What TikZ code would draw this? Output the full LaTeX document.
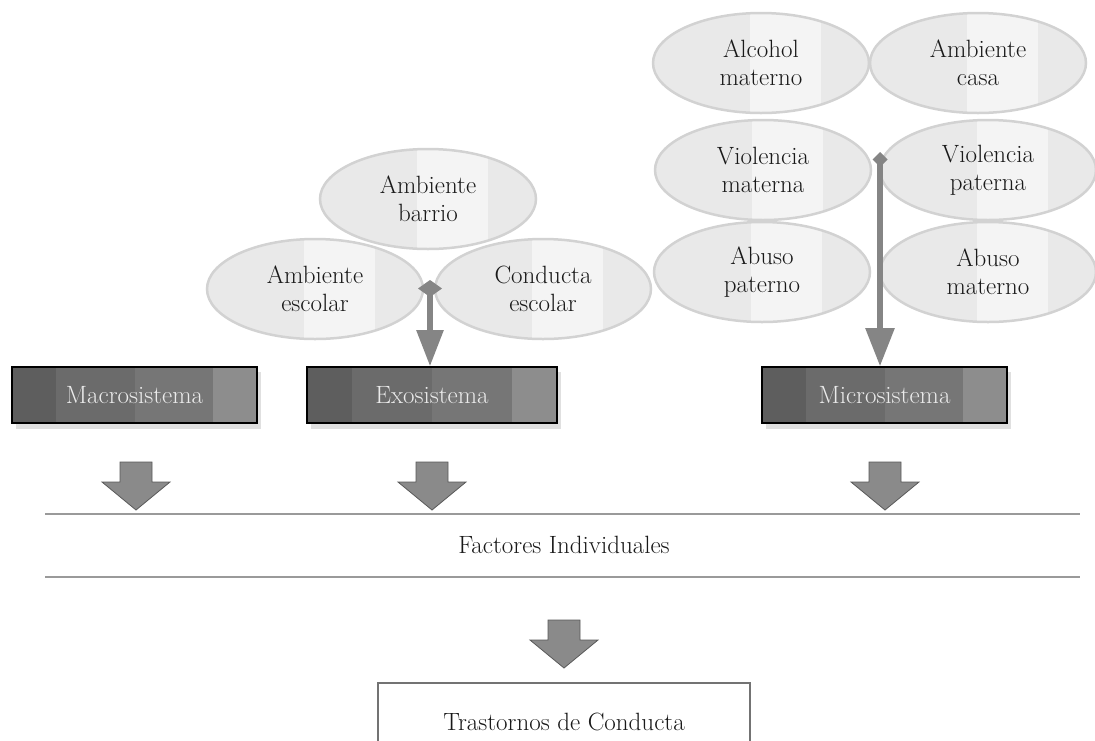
\documentclass[tikz,border=0pt]{standalone}
\usetikzlibrary{arrows.meta,shapes.geometric,calc}
\definecolor{bubfill}{HTML}{E9E9E9}
\definecolor{bubband}{HTML}{F4F4F4}
\definecolor{bubline}{HTML}{D2D2D2}
\definecolor{conn}{HTML}{858585}
\definecolor{bA}{HTML}{5E5E5E}
\definecolor{bB}{HTML}{6B6B6B}
\definecolor{bC}{HTML}{767676}
\definecolor{bD}{HTML}{8D8D8D}
\definecolor{blk}{HTML}{8A8A8A}
\definecolor{rule}{HTML}{9A9A9A}
\tikzset{
  bubble/.style={ellipse, minimum width=216pt, minimum height=100pt, inner sep=0pt,
    fill=bubfill, draw=bubline, line width=2.5pt, align=center,
    font=\fontsize{25}{28}\selectfont, text=black!90,
    path picture={\fill[bubband] ($(path picture bounding box.south west)!0.45!(path picture bounding box.south east)$) rectangle ($(path picture bounding box.north west)!0.78!(path picture bounding box.north east)$);}},
  sysbox/.style={rectangle, minimum width=245pt, minimum height=56pt, inner sep=0pt,
    draw=black, line width=1.6pt, text=white!92!black, font=\fontsize{25}{28}\selectfont,
    path picture={
      \fill[bA] (path picture bounding box.south west) rectangle ($(path picture bounding box.north west)!0.18!(path picture bounding box.north east)$);
      \fill[bB] ($(path picture bounding box.south west)!0.18!(path picture bounding box.south east)$) rectangle ($(path picture bounding box.north west)!0.5!(path picture bounding box.north east)$);
      \fill[bC] ($(path picture bounding box.south west)!0.5!(path picture bounding box.south east)$) rectangle ($(path picture bounding box.north west)!0.82!(path picture bounding box.north east)$);
      \fill[bD] ($(path picture bounding box.south west)!0.82!(path picture bounding box.south east)$) rectangle (path picture bounding box.north east);}},
  shadowbox/.style={fill=black!12},
  connarrow/.style={draw=conn, line width=5.5pt},
  blockarrow/.style={fill=blk, draw=black!65, line width=0.8pt, line join=miter},
  rulestyle/.style={draw=rule, line width=1.6pt},
  plaintext/.style={font=\fontsize{25}{28}\selectfont, text=black!90},
}
\newcommand{\downblock}[2]{%
  \draw[blockarrow] (#1-16,#2) -- (#1+16,#2) -- (#1+16,#2+20) -- (#1+34,#2+20) -- (#1,#2+48) -- (#1-34,#2+20) -- (#1-16,#2+20) -- cycle;}
\begin{document}
\begin{tikzpicture}[x=1pt,y=-1pt]
\useasboundingbox (0,0) rectangle (1095,740);
\clip (0,0) rectangle (1095,740);

% exosystem cluster
\node[bubble] (barrio) at (428,199) {Ambiente\\barrio};
\node[bubble] (escolar) at (315,289) {Ambiente\\escolar};
\node[bubble] (conducta) at (543,289) {Conducta\\escolar};

% microsystem cluster
\node[bubble] (alcohol) at (761,63) {Alcohol\\materno};
\node[bubble] (casa) at (978,63) {Ambiente\\casa};
\node[bubble] (vmat) at (763,170) {Violencia\\materna};
\node[bubble] (vpat) at (988,170) {Violencia\\paterna};
\node[bubble] (apat) at (762,272) {Abuso\\paterno};
\node[bubble] (amat) at (988,272) {Abuso\\materno};

% system boxes with shadows
\fill[shadowbox] (16,372) rectangle (261,429);
\fill[shadowbox] (311,372) rectangle (561,429);
\fill[shadowbox] (766,372) rectangle (1011,429);
\node[sysbox] (macro) at (134.5,395) {Macrosistema};
\node[sysbox, minimum width=250pt] (exo) at (432,395) {Exosistema};
\node[sysbox] (micro) at (884.5,395) {Microsistema};

% connectors
\coordinate (exoStart) at (430,280);
\coordinate (microStart) at (880,152);
\draw[connarrow, {Diamond[length=17pt,width=24pt]}-{Triangle[length=36pt,width=26pt]}] (exoStart) -- (exoStart |- exo.north);
\draw[connarrow, {Diamond[length=15pt,width=15pt]}-{Triangle[length=38pt,width=28pt]}] (microStart) -- (microStart |- micro.north);

% block arrows
\downblock{136}{462}
\downblock{432}{462}
\downblock{885}{462}
\downblock{564}{620}

% rules and factors
\coordinate (r1a) at (45,514); \coordinate (r1b) at (1080,514);
\coordinate (r2a) at (45,577); \coordinate (r2b) at (1080,577);
\draw[rulestyle] (r1a) -- (r1b);
\draw[rulestyle] (r2a) -- (r2b);
\node[plaintext] (factores) at (564,545) {Factores Individuales};

% final box
\node[draw=black!55, line width=1.6pt, minimum width=372pt, minimum height=90pt, anchor=north] (trast) at (564,682) {};
\node[plaintext] (trastlabel) at (564,722) {Trastornos de Conducta};
\end{tikzpicture}
\end{document}
